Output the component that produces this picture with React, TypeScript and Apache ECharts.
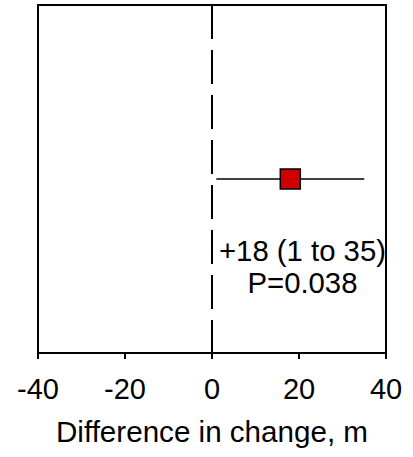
import React, { useEffect, useRef } from "react";
import * as echarts from "echarts";

const xTicks = [-40, -20, 0, 20, 40];
const estimate = 18;
const ciLow = 1;
const ciHigh = 35;
const rowY = 0.5;
const annotLines = ["+18 (1 to 35)", "P=0.038"];
const annotPos = [20.8, 0.25];
const axisTitle = "Difference in change, m";

const FONT = "'Liberation Sans', Arial, sans-serif";

export default function App() {
  const ref = useRef<HTMLDivElement>(null);
  useEffect(() => {
    if (!ref.current) return;
    const chart = echarts.init(ref.current, null, { renderer: "svg" });
    chart.setOption({
      animation: false,
      backgroundColor: "#ffffff",
      grid: {
        left: 38,
        top: 5,
        width: 348,
        height: 348,
        show: true,
        borderColor: "#000",
        borderWidth: 2,
        backgroundColor: "transparent",
      },
      xAxis: {
        type: "value",
        min: xTicks[0],
        max: xTicks[xTicks.length - 1],
        interval: 20,
        splitLine: { show: false },
        axisLine: { show: true, onZero: false, lineStyle: { color: "#000", width: 2 } },
        axisTick: { show: true, inside: false, length: 6, lineStyle: { color: "#000", width: 2 } },
        axisLabel: { color: "#000", fontSize: 29, fontFamily: FONT, margin: 21 },
        name: axisTitle,
        nameLocation: "middle",
        nameGap: 63,
        nameTextStyle: { color: "#000", fontSize: 29.6, fontFamily: FONT },
      },
      yAxis: {
        type: "value",
        min: 0,
        max: 1,
        show: false,
      },
      series: [
        {
          type: "line",
          z: 2,
          data: [
            [0, 1],
            [0, 0],
          ],
          symbol: "none",
          lineStyle: { color: "#000", width: 2, type: [34, 11] },
          silent: true,
        },
        {
          type: "line",
          z: 2,
          data: [
            [ciLow, rowY],
            [ciHigh, rowY],
          ],
          symbol: "none",
          lineStyle: { color: "#000", width: 1.5 },
          silent: true,
        },
        {
          type: "scatter",
          z: 10,
          data: [[estimate, rowY]],
          symbol: "rect",
          symbolSize: 20,
          itemStyle: { color: "#cc0000", borderColor: "#000", borderWidth: 1.5, opacity: 1 },
          silent: true,
        },
        {
          type: "scatter",
          z: 10,
          data: [annotPos],
          symbolSize: 0,
          itemStyle: { color: "#000", opacity: 1 },
          label: {
            show: true,
            position: "inside",
            formatter: annotLines.join("\n"),
            color: "#000",
            opacity: 1,
            textBorderWidth: 0,
            fontSize: 29.3,
            lineHeight: 32,
            fontFamily: FONT,
            align: "center",
            verticalAlign: "middle",
          },
          silent: true,
        },
      ],
    });
    return () => chart.dispose();
  }, []);
  return (
    <div
      ref={ref}
      style={{ position: "fixed", left: 0, top: 0, width: 413, height: 457 }}
    />
  );
}
